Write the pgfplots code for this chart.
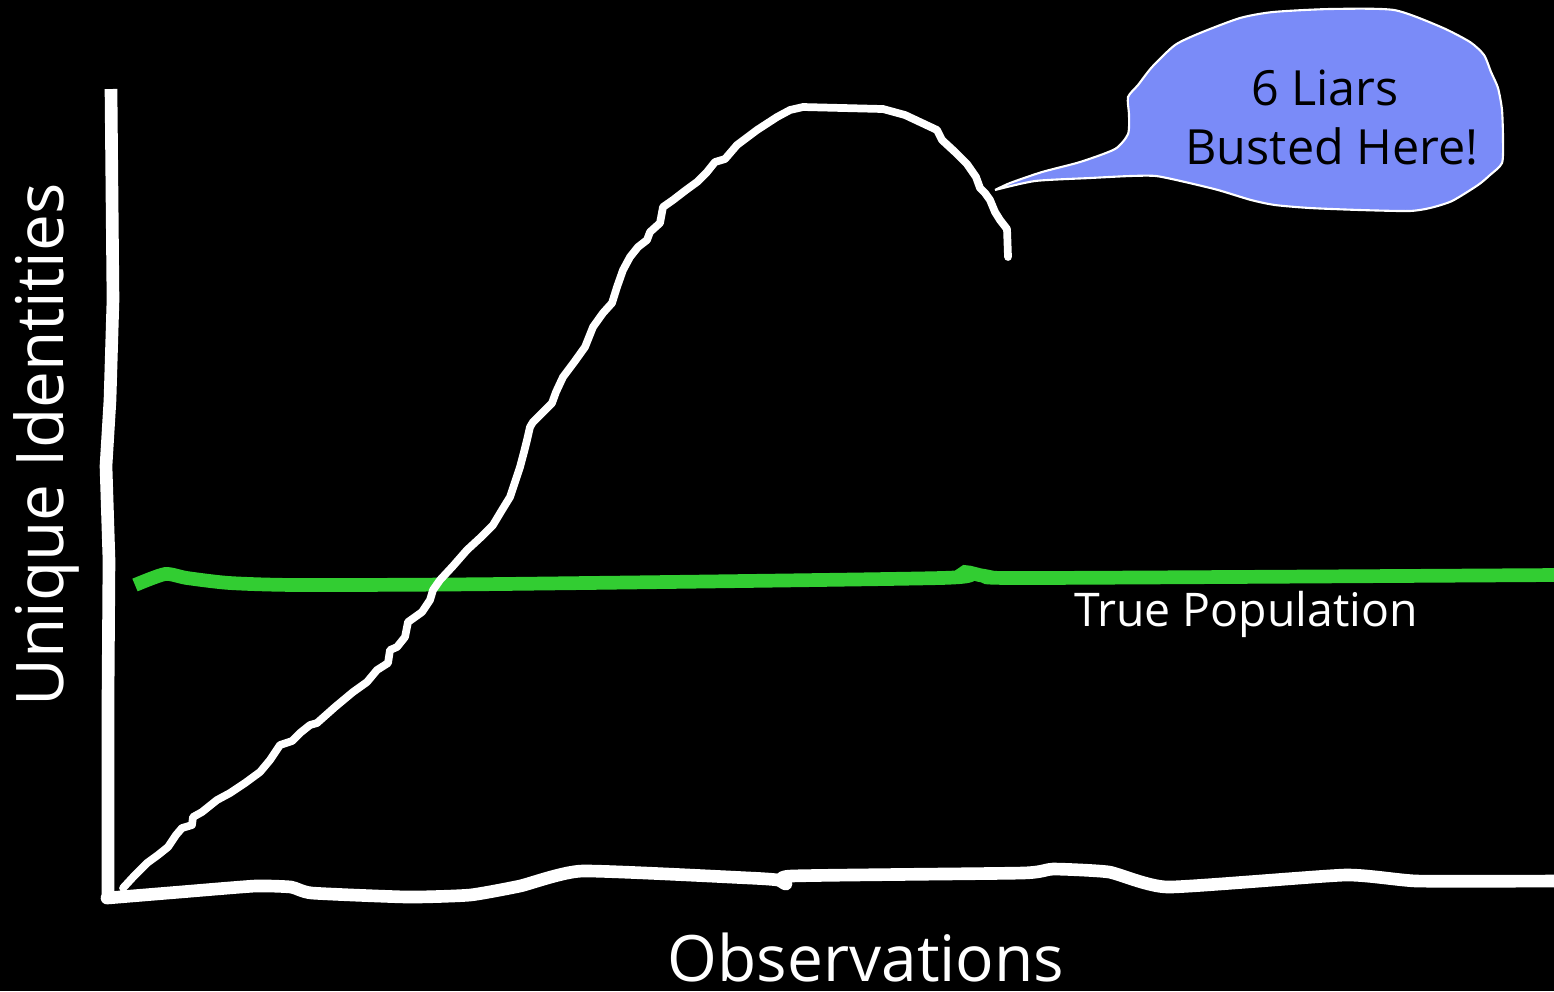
\documentclass[border=0pt]{standalone}
\usepackage{pgfplots}
\pgfplotsset{compat=1.18}
\usepackage{fontspec}
\setmainfont{Open Sans}
\definecolor{bubble}{RGB}{122,139,248}
\definecolor{grn}{RGB}{50,205,50}
\begin{document}
\begin{tikzpicture}
\begin{axis}[
  width=155.4mm, height=99.1mm, scale only axis,
  xmin=0, xmax=1554, ymin=0, ymax=991, y dir=reverse,
  axis lines=none, ticks=none,
  clip=true,
]
\fill[black] (axis cs:0,0) rectangle (axis cs:1554,991);
% y axis
\addplot[white, line width=3.6pt, line join=round] coordinates {
(111,89) (113,300) (110,400) (106,466) (109,560) (108,700) (108,900)
};
% x axis
\addplot[white, line width=3.6pt, line cap=round, line join=round, smooth, tension=0.3] coordinates {
(107,898) (180,892) (255,886) (291,887) (312,893) (408,897) (470,895) (520,886) (582,871) (750,878) (778,880) (786,884) (791,876) (1022,873) (1053,869) (1109,872) (1168,887) (1345,875) (1417,881) (1554,881)
};
% green line
\addplot[grn, line width=3.9pt, smooth, tension=0.4] coordinates {
(135,585) (165,574) (187,578) (230,583) (300,585) (500,584) (940,578) (965,572) (985,576) (1030,578) (1554,575)
};
% white curve
\addplot[white, line width=2.2pt, line cap=round, line join=round] coordinates {
(123,888) (135,875) (147,863) (158,855) (168,847) (176,835) (182,828) (192,825) (193,817) (202,812) (217,800) (230,793) (245,783) (260,772) (270,760) (280,745) (292,741) (300,733) (310,725) (317,723) (335,707) (353,692) (367,682) (377,670) (388,663) (390,650) (397,647) (405,637) (408,622) (422,612) (430,600) (433,590) (440,580) (453,566) (467,550) (480,538) (493,525) (502,510) (510,497) (515,482) (520,467) (524,452) (527,440) (530,427) (533,422) (543,412) (552,403) (556,392) (563,377) (575,361) (585,347) (593,327) (603,313) (612,303) (617,287) (623,270) (630,257) (638,247) (647,240) (650,232) (660,223) (663,207) (673,200) (686,190) (697,182) (707,172) (715,162) (725,159) (737,145) (757,130) (777,117) (790,110) (803,107) (883,109) (905,115) (937,130) (942,140) (955,152) (967,164) (976,177) (980,188) (985,193) (990,200) (995,212) (1000,220) (1007,229) (1008,257)
};
% bubble
\addplot[fill=bubble, draw=white, line width=0.6pt, smooth, tension=0.4] coordinates {
(995,190) (1010,183) (1042,172) (1080,162) (1115,149) (1128,134) (1129,115) (1128,97) (1138,85) (1152,67) (1175,45) (1200,33) (1240,18) (1273,12) (1330,9) (1394,10) (1441,27) (1470,42) (1484,55) (1491,72) (1498,88) (1502,110) (1503,140) (1502,163) (1490,175) (1478,185) (1452,201) (1430,208) (1409,211) (1360,210) (1310,208) (1275,205) (1251,200) (1218,190) (1185,182) (1156,176) (1130,176) (1090,178) (1035,181) (995,190)
};
\node[text=black, font=\fontsize{13.8}{16}\selectfont, anchor=center] at (axis cs:1325,88) {6 Liars};
\node[text=black, font=\fontsize{13.8}{16}\selectfont, anchor=center] at (axis cs:1332,146) {Busted Here!};
\node[text=white, font=\fontsize{13.2}{16}\selectfont, anchor=center] at (axis cs:1246,614) {True Population};
\node[text=white, font=\fontsize{18.2}{22}\selectfont, anchor=center] at (axis cs:866,957) {Observations};
\node[text=white, font=\fontsize{18.7}{22}\selectfont, anchor=center, rotate=90] at (axis cs:46,445) {Unique Identities};
\end{axis}
\end{tikzpicture}
\end{document}
